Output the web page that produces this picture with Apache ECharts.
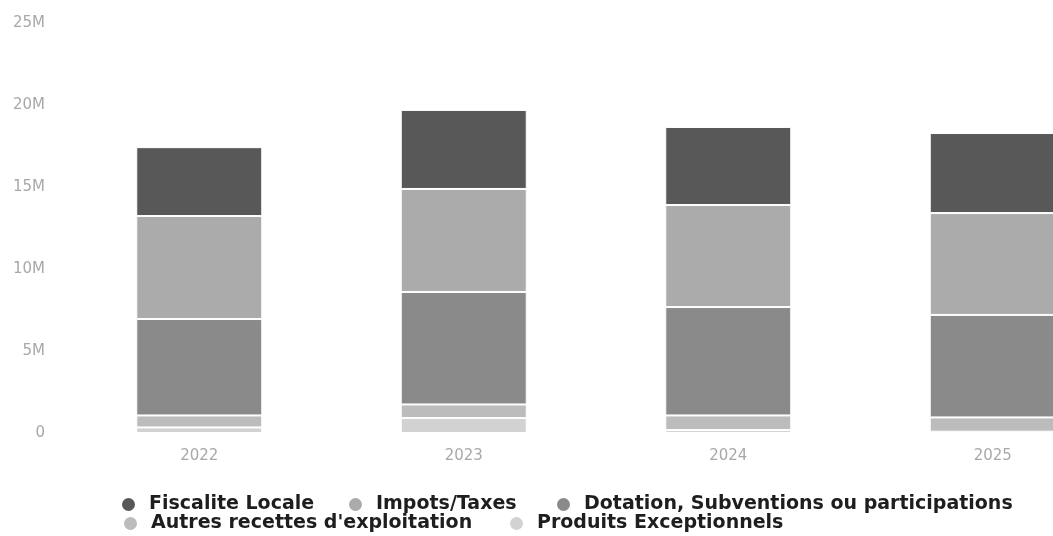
<!DOCTYPE html>
<html>
<head>
<meta charset="utf-8">
<title>Recettes</title>
<script src="https://cdn.jsdelivr.net/npm/echarts@6/dist/echarts.min.js"></script>
<style>
  html, body { margin: 0; padding: 0; background: #fff; overflow: hidden; }
  #chart { width: 1053px; height: 536px; }
</style>
</head>
<body>
<div id="chart"></div>
<script>
// Years shown on the category axis
const years = ['2022', '2023', '2024', '2025'];

// Revenue per year, in euros (stacked from bottom to top)
const produitsExceptionnels = [340000, 910000, 180000, 80000];
const autresRecettes = [730000, 830000, 890000, 870000];
const dotations = [5880000, 6860000, 6610000, 6250000];
const impotsTaxes = [6280000, 6280000, 6220000, 6210000];
const fiscaliteLocale = [4200000, 4820000, 4760000, 4880000];

// Series names as shown in the legend
const seriesNames = [
  'Fiscalite Locale',
  'Impots/Taxes',
  'Dotation, Subventions ou participations',
  "Autres recettes d'exploitation",
  'Produits Exceptionnels'
];

// Value-axis ticks
const yMax = 25000000;
const yStep = 5000000;

const colors = {
  'Fiscalite Locale': '#585858',
  'Impots/Taxes': '#ababab',
  'Dotation, Subventions ou participations': '#8a8a8a',
  "Autres recettes d'exploitation": '#bcbcbc',
  'Produits Exceptionnels': '#d2d2d2'
};

const valuesByName = {
  'Fiscalite Locale': fiscaliteLocale,
  'Impots/Taxes': impotsTaxes,
  'Dotation, Subventions ou participations': dotations,
  "Autres recettes d'exploitation": autresRecettes,
  'Produits Exceptionnels': produitsExceptionnels
};

// Bottom-up stacking order
const stackOrder = [
  'Produits Exceptionnels',
  "Autres recettes d'exploitation",
  'Dotation, Subventions ou participations',
  'Impots/Taxes',
  'Fiscalite Locale'
];

const series = stackOrder.map(name => ({
  name: name,
  type: 'bar',
  stack: 'total',
  barWidth: 126,
  data: valuesByName[name],
  itemStyle: { color: colors[name], borderColor: '#ffffff', borderWidth: 1 },
  emphasis: { disabled: true }
}));

function legendAt(name, left, top) {
  return {
    data: [{ name: name, icon: 'circle' }],
    left: left,
    top: top,
    padding: 0,
    itemWidth: 15,
    itemHeight: 15,
    selectedMode: false,
    textStyle: {
      fontFamily: 'DejaVu Sans',
      fontSize: 19,
      fontWeight: 'bold',
      color: '#1e1e1e',
      padding: [0, 0, 0, 8]
    }
  };
}

const chart = echarts.init(document.getElementById('chart'), null, { renderer: 'canvas' });

chart.setOption({
  animation: false,
  color: seriesNames.map(n => colors[n]),
  // the last category runs past the right edge of the canvas
  grid: {
    left: 67, top: 23, width: 1058, height: 410,
    containLabel: false,
    outerBoundsMode: 'none'
  },
  legend: [
    legendAt(seriesNames[0], 120, 495),
    legendAt(seriesNames[1], 347, 495),
    legendAt(seriesNames[2], 555, 495),
    legendAt(seriesNames[3], 122, 514),
    legendAt(seriesNames[4], 508, 514)
  ],
  xAxis: {
    type: 'category',
    data: years,
    axisLine: { show: false },
    axisTick: { show: false },
    axisLabel: {
      margin: 16,
      fontFamily: 'DejaVu Sans',
      fontSize: 15,
      color: '#a8a8a8'
    }
  },
  yAxis: {
    type: 'value',
    min: 0,
    max: yMax,
    interval: yStep,
    splitLine: { show: false },
    axisLine: { show: false },
    axisTick: { show: false },
    axisLabel: {
      margin: 22,
      fontFamily: 'DejaVu Sans',
      fontSize: 15,
      color: '#a8a8a8',
      formatter: v => (v === 0 ? '0' : (v / 1000000) + 'M')
    }
  },
  series: series
});
</script>
</body>
</html>
